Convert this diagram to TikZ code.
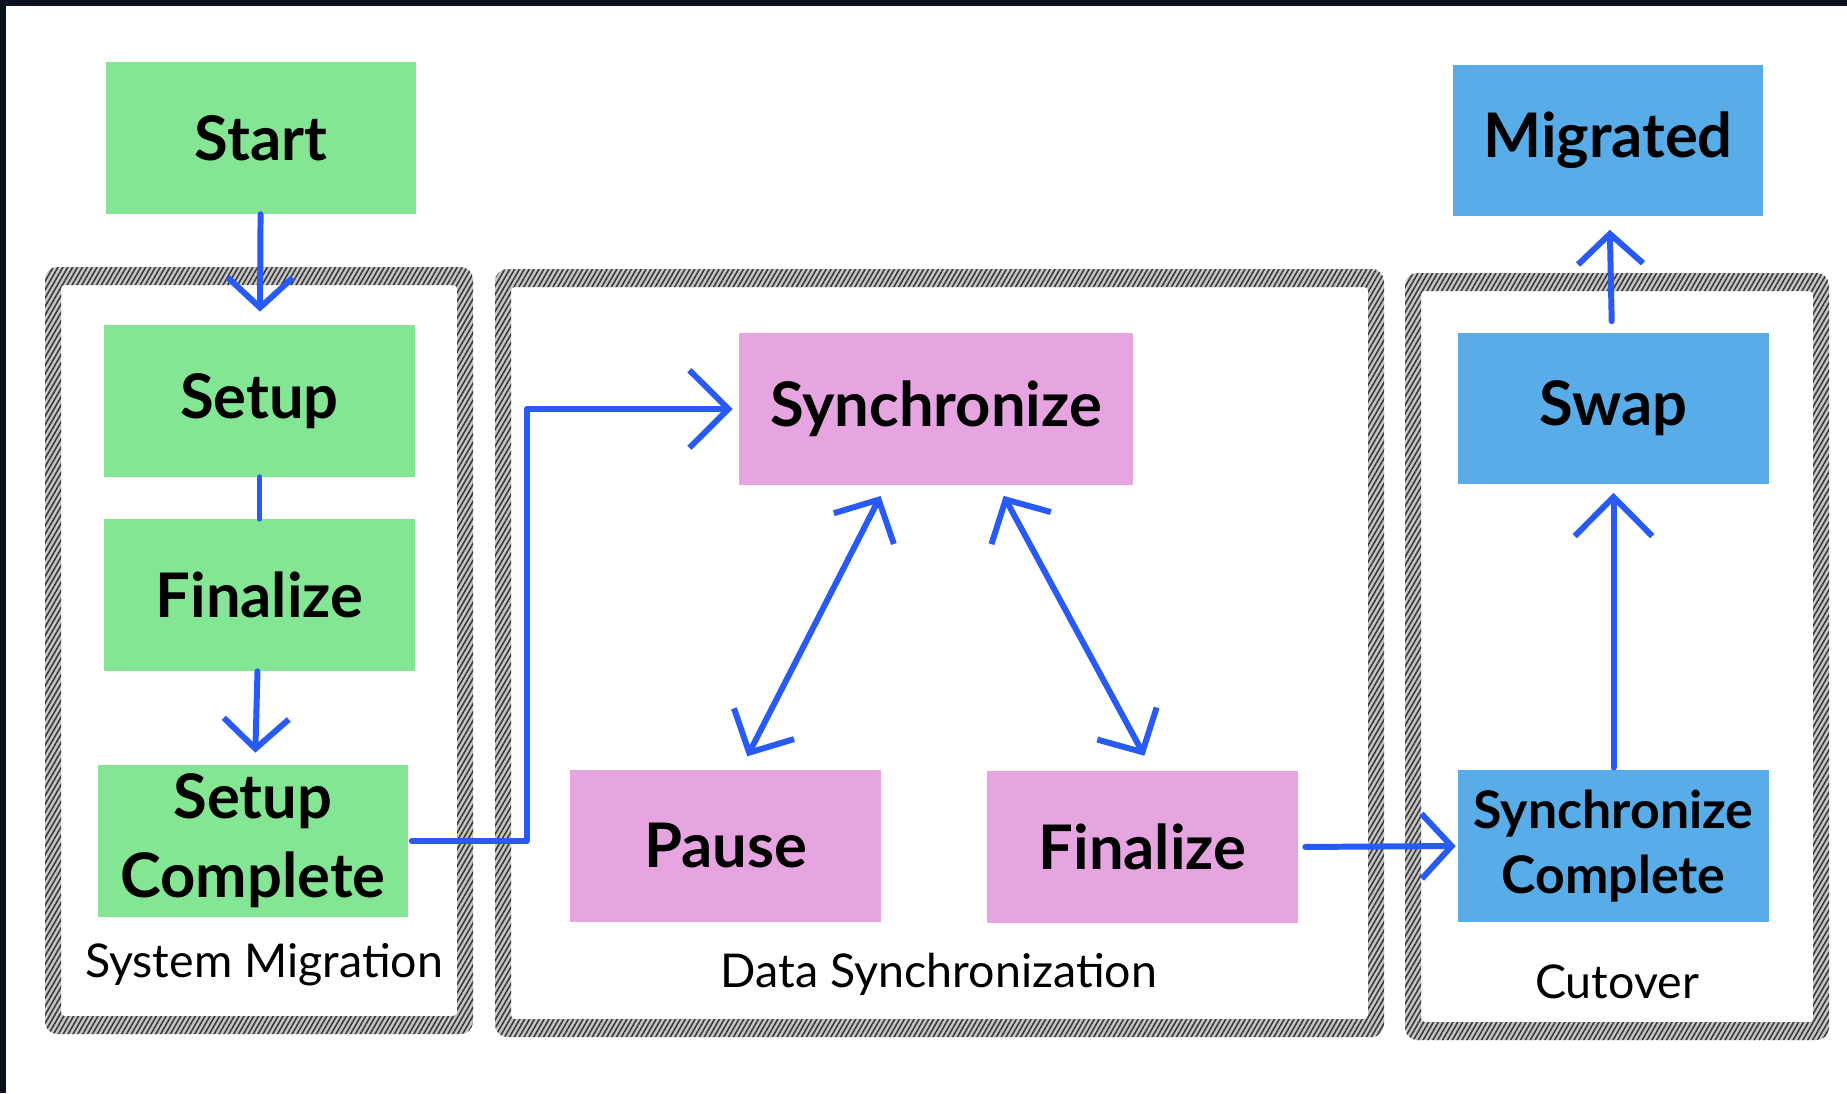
\documentclass[tikz,border=0pt]{standalone}
\usepackage{fontspec}
\setmainfont{Lato}
\usetikzlibrary{arrows.meta,patterns.meta}

\definecolor{edgedark}{RGB}{12,18,32}
\definecolor{migfill}{RGB}{132,230,148}
\definecolor{syncfill}{RGB}{230,165,224}
\definecolor{cutfill}{RGB}{88,172,232}
\definecolor{arrowblue}{RGB}{40,90,245}

\begin{document}
\begin{tikzpicture}[x=0.02cm, y=-0.02cm,
box/.style = {minimum width=6.22cm, minimum height=3.04cm, inner sep=0pt, align=center,
    font=\fontsize{35}{45}\selectfont\bfseries},
migbox/.style = {box, fill=migfill},
syncbox/.style = {box, fill=syncfill},
cutbox/.style = {box, fill=cutfill},
grouplabel/.style = {font=\fontsize{26.5}{32}\selectfont},
band/.style = {even odd rule, fill=gray!45, rounded corners=7pt,
    postaction={even odd rule, pattern={Lines[angle=60,distance=2.4pt,line width=0.9pt]},
        pattern color=gray!45!black}},
flow/.style = {draw=arrowblue, line width=3.4pt, line cap=round, line join=round},
barb/.style = {-{Straight Barb[length=0.6cm, width=1.3cm]}},
bigbarb/.style = {-{Straight Barb[length=0.78cm, width=1.55cm]}},
twobarb/.style = {{Straight Barb[length=0.65cm, width=1.35cm]}-{Straight Barb[length=0.65cm, width=1.35cm]}}]

% background with dark edge
\fill[edgedark] (0,0) rectangle (1847,1093);
\fill[white] (6,6) rectangle (1847,1093);

% group frames
\path[band] (45,267) rectangle (473,1034) [rounded corners=2pt] (61,285) rectangle (457,1016);
\path[band] (495,269) rectangle (1384,1037) [rounded corners=2pt] (511,287) rectangle (1368,1019);
\path[band] (1405,273) rectangle (1829,1040) [rounded corners=2pt] (1421,291) rectangle (1813,1022);

% system migration
\node[migbox] (start) at (261,138) {Start};
\node[migbox] (setup) at (259.5,401) {Setup};
\node[migbox] (finmig) at (259.5,595) {Finalize};
\node[migbox] (setupdone) at (253,841) {Setup\\Complete};
\node[grouplabel] (labmig) at (264,965) {System Migration};

% data synchronization
\node[syncbox, minimum width=7.88cm] (sync) at (936,409) {Synchronize};
\node[syncbox] (pause) at (725.5,846) {Pause};
\node[syncbox] (finsync) at (1142.5,847) {Finalize};
\node[grouplabel] (labsync) at (939,974) {Data Synchronization};

% cutover
\node[cutbox] (migrated) at (1608,140.5) {Migrated};
\node[cutbox] (swap) at (1613.5,408.5) {Swap};
\node[cutbox, font=\fontsize{29.5}{37}\selectfont\bfseries] (syncdone) at (1613.5,846) {Synchronize\\Complete};
\node[grouplabel] (labcut) at (1617,982) {Cutover};

% connectors
\draw[flow, barb, shorten >=0.26cm] (start) -- (setup);
\draw[flow] (setup) -- (finmig);
\draw[flow, barb, shorten >=0.24cm] (finmig) -- (setupdone);
\draw[flow, bigbarb, shorten <=0.06cm, shorten >=0.12cm] (setupdone.east) -- ++(118,0) |- (sync.west);
\draw[flow, twobarb, shorten <=0.24cm, shorten >=0.3cm] ([xshift=-1cm]sync.south) -- ([xshift=0.3cm]pause.north);
\draw[flow, twobarb, shorten <=0.24cm, shorten >=0.34cm] ([xshift=1.24cm]sync.south) -- ([xshift=0.2cm]finsync.north);
\draw[flow, barb, shorten <=0.14cm, shorten >=0.04cm] (finsync.east) -- (syncdone.west);
\draw[flow, bigbarb, shorten <=0.04cm, shorten >=0.16cm] (syncdone) -- (swap);
\draw[flow, barb, shorten <=0.22cm, shorten >=0.26cm] (swap) -- (migrated);
\end{tikzpicture}
\end{document}
